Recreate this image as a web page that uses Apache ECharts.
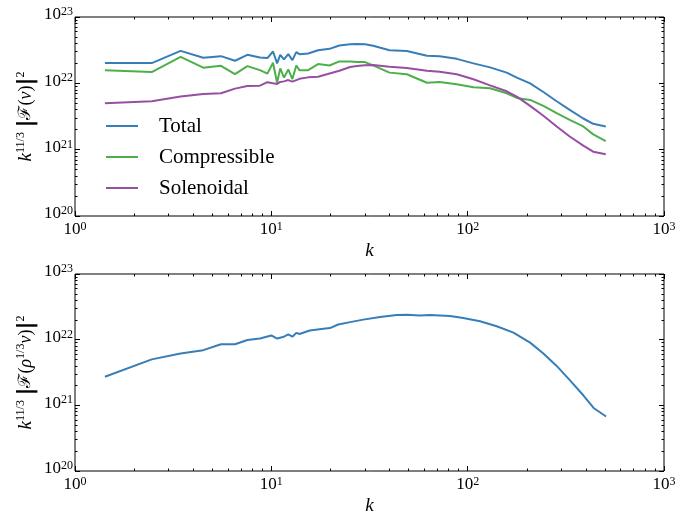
<!DOCTYPE html>
<html>
<head>
<meta charset="utf-8">
<script src="https://cdn.jsdelivr.net/npm/echarts@6/dist/echarts.min.js"></script>
<style>
  html, body { margin: 0; padding: 0; background: #fff; }
  #chart { width: 679px; height: 516px; }
</style>
</head>
<body>
<div id="chart"></div>
<script>
// wavenumbers shared by the three curves of the top panel
const kTop = [1.42, 2.46, 3.45, 4.5, 5.54, 6.53, 7.55, 8.75, 9.55, 10.2, 10.7, 11.1, 11.6, 12.2, 12.8, 13.4, 13.9,
  15.4, 17.3, 19.8, 22.2, 25.2, 27.3, 30, 33, 40, 49, 62, 72, 88, 107, 130, 158, 178, 208, 243, 284, 331, 388, 436, 505];
const totalV = [2.02e22, 2.02e22, 3.09e22, 2.43e22, 2.57e22, 2.19e22, 2.69e22, 2.45e22, 2.40e22, 3.02e22, 2.00e22,
  2.69e22, 2.29e22, 2.75e22, 2.24e22, 2.95e22, 2.75e22, 2.82e22, 3.16e22, 3.31e22, 3.72e22, 3.89e22, 3.92e22, 3.89e22,
  3.69e22, 3.16e22, 3.07e22, 2.61e22, 2.57e22, 2.34e22, 2.00e22, 1.74e22, 1.45e22, 1.22e22, 1.00e22, 7.41e21,
  5.37e21, 3.98e21, 2.95e21, 2.45e21, 2.24e21];
const compV = [1.57e22, 1.48e22, 2.51e22, 1.72e22, 1.84e22, 1.38e22, 1.82e22, 1.58e22, 1.40e22, 2.04e22, 1.02e22,
  1.68e22, 1.22e22, 1.62e22, 1.16e22, 1.86e22, 1.58e22, 1.58e22, 1.95e22, 1.86e22, 2.14e22, 2.14e22, 2.09e22, 2.09e22,
  1.86e22, 1.45e22, 1.37e22, 1.02e22, 1.05e22, 9.66e21, 8.71e21, 8.41e21, 7.08e21, 6.03e21, 5.62e21, 4.57e21,
  3.55e21, 2.82e21, 2.24e21, 1.70e21, 1.35e21];
const solV = [4.99e21, 5.37e21, 6.31e21, 6.92e21, 7.08e21, 8.32e21, 9.12e21, 9.23e21, 1.04e22, 1.00e22, 9.77e21,
  1.05e22, 1.07e22, 1.12e22, 1.06e22, 1.12e22, 1.17e22, 1.23e22, 1.26e22, 1.41e22, 1.55e22, 1.76e22, 1.82e22, 1.88e22,
  1.89e22, 1.78e22, 1.70e22, 1.55e22, 1.50e22, 1.37e22, 1.15e22, 9.33e21, 7.59e21, 6.31e21, 4.57e21, 3.24e21,
  2.24e21, 1.58e21, 1.15e21, 9.33e20, 8.51e20];

// bottom panel: density-weighted spectrum
const kBot = [1.42, 2.46, 3.45, 4.5, 5.54, 6.53, 7.55, 8.75, 10.0, 10.7, 11.6, 12.2, 12.8, 13.4, 13.9, 15.7, 18.4,
  19.9, 21.9, 25.2, 29.4, 35.8, 43.6, 49, 57.1, 64.3, 81.3, 95, 115.6, 140.6, 171, 208, 243, 284, 333, 389, 438, 507];
const rhoV = [2.73e21, 5.01e21, 6.17e21, 6.92e21, 8.51e21, 8.51e21, 9.86e21, 1.04e22, 1.16e22, 1.04e22, 1.11e22,
  1.20e22, 1.11e22, 1.27e22, 1.22e22, 1.38e22, 1.47e22, 1.50e22, 1.70e22, 1.85e22, 2.02e22, 2.22e22, 2.38e22,
  2.40e22, 2.34e22, 2.38e22, 2.29e22, 2.14e22, 1.91e22, 1.60e22, 1.28e22, 9.02e21, 6.17e21, 3.98e21, 2.38e21,
  1.41e21, 9.12e20, 6.76e20];

const seriesNames = ['Total', 'Compressible', 'Solenoidal'];
const colors = ['#377eb8', '#4daf4a', '#984ea3'];

const minorK = [2, 3, 4, 5, 6, 7, 8, 9, 20, 30, 40, 50, 60, 70, 80, 90, 200, 300, 400, 500, 600, 700, 800, 900];
const minorY = [2e20, 3e20, 4e20, 5e20, 6e20, 7e20, 8e20, 9e20, 2e21, 3e21, 4e21, 5e21, 6e21, 7e21, 8e21, 9e21,
  2e22, 3e22, 4e22, 5e22, 6e22, 7e22, 8e22, 9e22];

const serif = 'Liberation Serif';
const powLabel = v => '{b|10}{s|' + Math.round(Math.log10(v)) + '}';
const tickRich = {
  b: { fontFamily: serif, fontSize: 17, lineHeight: 18, color: '#000' },
  s: { fontFamily: serif, fontSize: 12, lineHeight: 12, verticalAlign: 'top', color: '#000' }
};
const nameRich = {
  k: { fontFamily: serif, fontStyle: 'italic', fontSize: 19, color: '#000' },
  s: { fontFamily: serif, fontSize: 12, lineHeight: 12, verticalAlign: 'top', color: '#000' },
  n: { fontFamily: serif, fontSize: 18, color: '#000' },
  i: { fontFamily: serif, fontStyle: 'italic', fontSize: 18, color: '#000' },
  f: { fontFamily: 'DejaVu Serif', fontSize: 17, color: '#000' },
  bar: { fontFamily: 'DejaVu Sans', fontWeight: 'bold', fontSize: 22, color: '#000' }
};

function xAxes(g) {
  const base = { type: 'log', logBase: 10, gridIndex: g, min: 1, max: 1000,
    splitLine: { show: false }, axisLine: { show: false } };
  return [
    Object.assign({}, base, {
      position: 'bottom',
      axisTick: { inside: true, length: 5, lineStyle: { color: '#000' } },
      axisLabel: { formatter: powLabel, rich: tickRich, margin: 5, showMinLabel: true, showMaxLabel: true },
      name: 'k', nameLocation: 'middle', nameGap: 25,
      nameTextStyle: { fontFamily: serif, fontStyle: 'italic', fontSize: 19, color: '#000' }
    }),
    Object.assign({}, base, { position: 'top', axisLabel: { show: false },
      axisTick: { inside: true, length: 5, lineStyle: { color: '#000' } } }),
    Object.assign({}, base, { position: 'bottom', axisLabel: { show: false },
      axisTick: { inside: true, length: 2.5, customValues: minorK, lineStyle: { color: '#000' } } }),
    Object.assign({}, base, { position: 'top', axisLabel: { show: false },
      axisTick: { inside: true, length: 2.5, customValues: minorK, lineStyle: { color: '#000' } } })
  ];
}

function yAxes(g, name) {
  const base = { type: 'log', logBase: 10, gridIndex: g, min: 1e20, max: 1e23,
    splitLine: { show: false }, axisLine: { show: false } };
  return [
    Object.assign({}, base, {
      position: 'left',
      axisTick: { inside: true, length: 5, lineStyle: { color: '#000' } },
      axisLabel: { formatter: powLabel, rich: tickRich, margin: 2, padding: [0, 0, 4, 0],
        showMinLabel: true, showMaxLabel: true },
      name: name, nameLocation: 'middle', nameGap: 38, nameRotate: 90, nameMoveOverlap: false,
      nameTextStyle: { rich: nameRich }
    }),
    Object.assign({}, base, { position: 'right', axisLabel: { show: false },
      axisTick: { inside: true, length: 5, lineStyle: { color: '#000' } } }),
    Object.assign({}, base, { position: 'left', axisLabel: { show: false },
      axisTick: { inside: true, length: 2.5, customValues: minorY, lineStyle: { color: '#000' } } }),
    Object.assign({}, base, { position: 'right', axisLabel: { show: false },
      axisTick: { inside: true, length: 2.5, customValues: minorY, lineStyle: { color: '#000' } } })
  ];
}

const topName = '{k|k}{s|11/3}{n| }{bar||}{f|ℱ}{n|(}{i|v}{n|)}{bar||}{s|2}';
const botName = '{k|k}{s|11/3}{n| }{bar||}{f|ℱ}{n|(}{i|ρ}{s|1/3}{i|v}{n|)}{bar||}{s|2}';

function line(name, xs, ys, color, axisIdx) {
  return {
    name: name, type: 'line', xAxisIndex: axisIdx, yAxisIndex: axisIdx,
    data: xs.map((k, i) => [k, ys[i]]),
    symbol: 'none', smooth: false,
    lineStyle: { color: color, width: 2 }, itemStyle: { color: color }
  };
}

const chart = echarts.init(document.getElementById('chart'));
chart.setOption({
  animation: false,
  backgroundColor: '#fff',
  grid: [
    { left: 75, top: 17, width: 589, height: 199, show: true, borderColor: '#000', borderWidth: 1 },
    { left: 75, top: 274, width: 589, height: 199, show: true, borderColor: '#000', borderWidth: 1 }
  ],
  xAxis: xAxes(0).concat(xAxes(1)),
  yAxis: yAxes(0, topName).concat(yAxes(1, botName)),
  legend: {
    data: seriesNames, orient: 'vertical', left: 101, top: 109,
    icon: 'rect', itemWidth: 32, itemHeight: 2, itemGap: 7,
    textStyle: { fontFamily: serif, fontSize: 21, lineHeight: 24, color: '#000', padding: [0, 0, 0, 16] }
  },
  series: [
    line(seriesNames[0], kTop, totalV, colors[0], 0),
    line(seriesNames[1], kTop, compV, colors[1], 0),
    line(seriesNames[2], kTop, solV, colors[2], 0),
    line('rho', kBot, rhoV, colors[0], 4)
  ]
});
window.addEventListener('resize', () => chart.resize());
</script>
</body>
</html>
